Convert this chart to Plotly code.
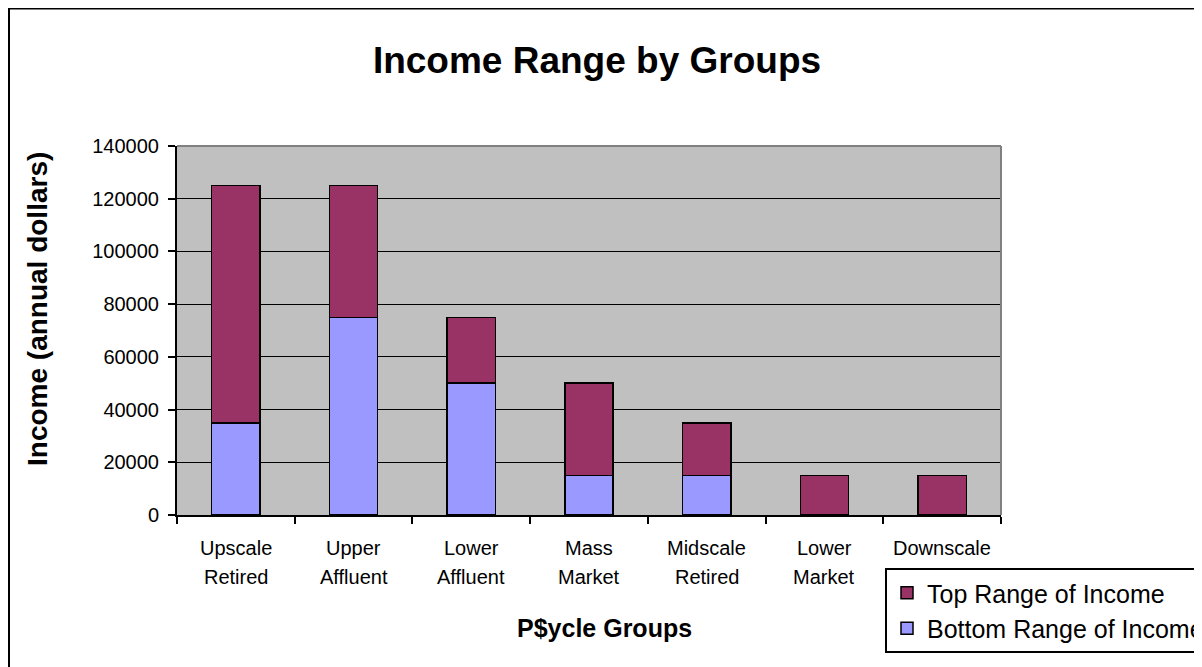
import plotly.graph_objects as go

groups = ["Upscale Retired", "Upper Affluent", "Lower Affluent", "Mass Market",
          "Midscale Retired", "Lower Market", "Downscale Earners"]
label_line1 = ["Upscale", "Upper", "Lower", "Mass", "Midscale", "Lower", "Downscale"]
label_line2 = ["Retired", "Affluent", "Affluent", "Market", "Retired", "Market", ""]

bottom_range = [35000, 75000, 50000, 15000, 15000, 0, 0]
top_range = [90000, 50000, 25000, 35000, 20000, 15000, 15000]

FONT = "Arial, Liberation Sans, sans-serif"

fig = go.Figure()

fig.add_trace(go.Bar(
    x=groups, y=bottom_range, name="Bottom Range of Income",
    marker=dict(color="#9999FF", line=dict(color="black", width=1.5)),
    width=0.41,
))
fig.add_trace(go.Bar(
    x=groups, y=top_range, name="Top Range of Income",
    marker=dict(color="#993366", line=dict(color="black", width=1.5)),
    width=0.41,
))

# category labels, two lines each
annotations = []
for g, a, b in zip(groups, label_line1, label_line2):
    annotations.append(dict(x=g, xref="x", yref="paper", y=-0.0894, text=a,
                            xanchor="center", yanchor="middle", showarrow=False,
                            font=dict(size=20, color="black", family=FONT)))
    if b:
        annotations.append(dict(x=g, xref="x", yref="paper", y=-0.168, text=b,
                                xanchor="center", yanchor="middle", showarrow=False,
                                font=dict(size=20, color="black", family=FONT)))

annotations.append(dict(x=(604 - 177) / 824, xref="paper", y=(515 - 628) / 369, yref="paper",
                        text="<b>P$ycle Groups</b>", showarrow=False,
                        xanchor="center", yanchor="middle",
                        font=dict(size=25, color="black", family=FONT)))
annotations.append(dict(x=(37 - 177) / 824, xref="paper", y=(515 - 309) / 369, yref="paper",
                        text="<b>Income (annual dollars)</b>", showarrow=False, textangle=-90,
                        xanchor="center", yanchor="middle",
                        font=dict(size=28, color="black", family=FONT)))

fig.update_layout(
    barmode="stack",
    width=1202,
    height=667,
    margin=dict(l=169, r=209, t=138, b=160, autoexpand=False),
    paper_bgcolor="white",
    plot_bgcolor="#C0C0C0",
    font=dict(family=FONT, color="black"),
    title=dict(text="<b>Income Range by Groups</b>", x=589 / 1202, xanchor="center",
               y=1 - 52 / 667, yanchor="middle", font=dict(size=37, family=FONT, color="black")),
    xaxis=dict(
        showticklabels=False, ticks="outside", tickson="boundaries", ticklen=7,
        tickcolor="black", tickwidth=2, showline=True, linecolor="black", linewidth=2,
        showgrid=False, zeroline=False,
    ),
    yaxis=dict(
        range=[0, 140000], dtick=20000, tickformat="d", ticks="outside", ticklen=7,
        tickcolor="black", tickwidth=2, showline=True, linecolor="black", linewidth=2,
        showgrid=True, gridcolor="black", gridwidth=1, zeroline=False,
        tickfont=dict(size=20, color="black", family=FONT), ticklabelstandoff=5,
    ),
    legend=dict(
        x=(885 - 177) / 824, xanchor="left", y=(515 - 568) / 369, yanchor="top",
        bgcolor="white", bordercolor="black", borderwidth=2,
        font=dict(size=25, color="black", family=FONT), traceorder="reversed",
        itemwidth=30,
    ),
    annotations=annotations,
    showlegend=True,
    shapes=[
        # plot area border (gray), top and right sides
        dict(type="line", xref="paper", yref="paper", x0=0, x1=1, y0=1, y1=1,
             line=dict(color="#808080", width=2), layer="above"),
        dict(type="line", xref="paper", yref="paper", x0=1, x1=1, y0=0, y1=1,
             line=dict(color="#808080", width=2), layer="above"),
        # outer chart border
        dict(type="rect", xref="paper", yref="paper",
             x0=(1 - 169) / 824, x1=(1215 - 169) / 824,
             y0=(507 - 690) / 369, y1=(507 - 0.5) / 369,
             line=dict(color="black", width=2)),
    ],
)

fig.write_html("out.html")
